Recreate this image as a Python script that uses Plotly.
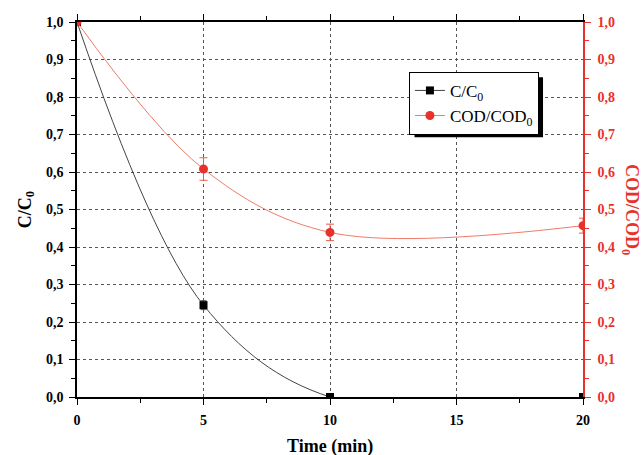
import plotly.graph_objects as go

# Measured ratios over reaction time
time_min = [0, 5, 10, 20]
c_ratio = [1.0, 0.245, 0.0, 0.0]
c_err = [0.0, 0.012, 0.0, 0.0]
cod_ratio = [1.0, 0.608, 0.439, 0.457]
cod_err = [0.0, 0.03, 0.022, 0.02]

x_ticks = [0, 5, 10, 15, 20]
y_ticks = [round(i * 0.1, 1) for i in range(11)]

SERIF = "Liberation Serif"
RED = "#e8312a"
GRID = "#555555"

fig = go.Figure()

fig.add_trace(go.Scatter(
    x=time_min, y=c_ratio, name="C/C<sub>0</sub>",
    mode="lines+markers", line=dict(color="#444444", width=1, shape="spline", smoothing=1.0),
    marker=dict(symbol="square", size=8, color="black"),
    error_y=dict(type="data", array=c_err, color="#555555", thickness=1, width=3),
    cliponaxis=True,
))
fig.add_trace(go.Scatter(
    x=time_min, y=cod_ratio, name="COD/COD<sub>0</sub>", yaxis="y2",
    mode="lines+markers", line=dict(color="#f07a6a", width=1, shape="spline", smoothing=1.0),
    marker=dict(symbol="circle", size=9, color=RED),
    error_y=dict(type="data", array=cod_err, color="#ec5a4c", thickness=1, width=4),
    cliponaxis=True,
))

tick_font = dict(family=SERIF, size=14, color="black", weight="bold")
title_font = dict(family=SERIF, size=18, color="black", weight="bold")

fig.update_layout(
    width=642, height=455,
    margin=dict(l=77, r=59, t=22, b=58, autoexpand=False),
    paper_bgcolor="white", plot_bgcolor="white",
    separators=",.",
    showlegend=True,
    legend=dict(
        x=0.656, y=0.867, xanchor="left", yanchor="top",
        bgcolor="white", bordercolor="black", borderwidth=1,
        font=dict(family=SERIF, size=17, color="black"),
        tracegroupgap=2,
    ),
    xaxis=dict(
        range=[0, 20], tickvals=x_ticks, ticktext=[str(v) for v in x_ticks],
        showline=True, linecolor="black", linewidth=1.5, mirror="ticks",
        ticks="outside", ticklen=6, tickcolor="black", ticklabelstandoff=3,
        minor=dict(ticks="outside", ticklen=4, dtick=2.5, tickcolor="black", showgrid=False),
        showgrid=True, gridcolor=GRID, griddash="3px,3px", gridwidth=1,
        zeroline=False, tickfont=tick_font, automargin=False,
    ),
    yaxis=dict(
        range=[0, 1.0], tickvals=y_ticks, tickformat=".1f",
        showline=True, linecolor="black", linewidth=1.5,
        ticks="outside", ticklen=6, tickcolor="black", ticklabelstandoff=3,
        minor=dict(ticks="outside", ticklen=4, dtick=0.05, tickcolor="black", showgrid=False),
        showgrid=True, gridcolor=GRID, griddash="3px,3px", gridwidth=1,
        zeroline=False, tickfont=tick_font, automargin=False,
        title=dict(text="C/C<sub>0</sub>", font=title_font, standoff=10),
    ),
    yaxis2=dict(
        range=[0, 1.0], tickvals=y_ticks, tickformat=".1f",
        overlaying="y", side="right", anchor="x",
        showline=True, linecolor=RED, linewidth=1.5,
        ticks="outside", ticklen=6, tickcolor=RED, ticklabelstandoff=4,
        minor=dict(ticks="outside", ticklen=4, dtick=0.05, tickcolor=RED, showgrid=False),
        showgrid=False, zeroline=False, automargin=False,
        tickfont=dict(family=SERIF, size=14, color=RED, weight="bold"),
    ),
    annotations=[
        dict(
            text="Time (min)",
            xref="paper", yref="paper", x=0.5, y=-0.131, xanchor="center", yanchor="middle",
            showarrow=False, font=title_font,
        ),
        dict(
            text="COD/COD<sub>0</sub>", textangle=90,
            xref="paper", yref="paper", x=1.094, y=0.5, xanchor="center", yanchor="middle",
            showarrow=False, font=dict(family=SERIF, size=18, color=RED, weight="bold"),
        ),
    ],
    shapes=[dict(
        type="rect", xref="paper", yref="paper",
        x0=0.667, x1=0.921, y0=0.693, y1=0.853,
        fillcolor="black", line=dict(width=0), layer="above",
    )],
)

fig.write_html("out.html")
